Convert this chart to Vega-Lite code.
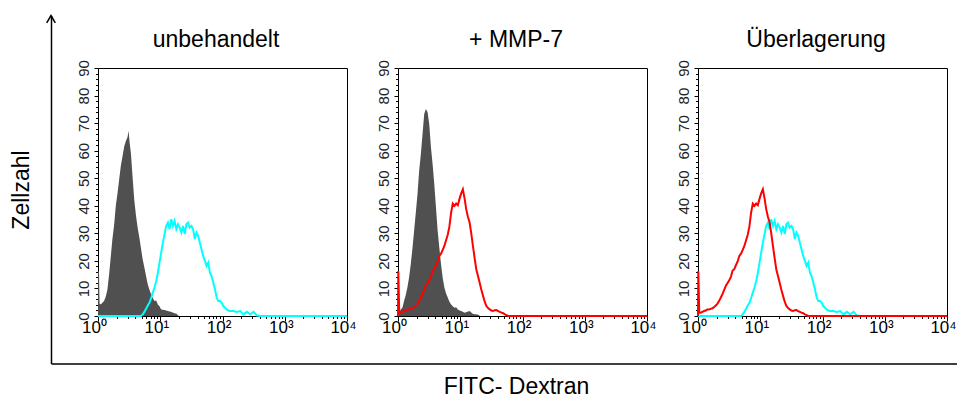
{
  "$schema": "https://vega.github.io/schema/vega-lite/v6.json",
  "padding": {"left": 10, "top": 12, "right": 0, "bottom": 0},
  "config": {
    "font": "Liberation Sans",
    "view": {"stroke": "black", "strokeWidth": 1},
    "axis": {"grid": false, "domain": false, "tickColor": "black", "labelColor": "black", "titleColor": "black", "titleFontWeight": "normal", "labelOverlap": false, "labelFlush": false},
    "title": {"fontSize": 23, "fontWeight": "normal", "color": "black", "frame": "bounds", "anchor": "middle", "offset": 8}
  },
  "datasets": {
    "control1": [
      {"logFITC": 0, "count": 16.3}, {"logFITC": 0.016, "count": 16.0}, {"logFITC": 0.025, "count": 4.5}, {"logFITC": 0.044, "count": 4.2},
      {"logFITC": 0.07, "count": 4.8}, {"logFITC": 0.097, "count": 5.4}, {"logFITC": 0.124, "count": 7.0}, {"logFITC": 0.151, "count": 9.5},
      {"logFITC": 0.178, "count": 15.0}, {"logFITC": 0.205, "count": 21.5}, {"logFITC": 0.232, "count": 28.0}, {"logFITC": 0.259, "count": 33.0},
      {"logFITC": 0.286, "count": 40.0}, {"logFITC": 0.313, "count": 44.5}, {"logFITC": 0.34, "count": 49.5}, {"logFITC": 0.367, "count": 54.5},
      {"logFITC": 0.394, "count": 58.0}, {"logFITC": 0.421, "count": 61.5}, {"logFITC": 0.448, "count": 63.5}, {"logFITC": 0.475, "count": 65.0},
      {"logFITC": 0.491, "count": 67.2}, {"logFITC": 0.51, "count": 62.5}, {"logFITC": 0.529, "count": 59.0}, {"logFITC": 0.556, "count": 50.3},
      {"logFITC": 0.583, "count": 42.0}, {"logFITC": 0.61, "count": 36.5}, {"logFITC": 0.637, "count": 32.0}, {"logFITC": 0.664, "count": 28.5},
      {"logFITC": 0.691, "count": 24.5}, {"logFITC": 0.718, "count": 20.5}, {"logFITC": 0.745, "count": 17.6}, {"logFITC": 0.772, "count": 14.5},
      {"logFITC": 0.799, "count": 11.5}, {"logFITC": 0.826, "count": 9.5}, {"logFITC": 0.853, "count": 7.9}, {"logFITC": 0.88, "count": 6.5},
      {"logFITC": 0.907, "count": 5.4}, {"logFITC": 0.934, "count": 5.6}, {"logFITC": 0.961, "count": 4.2}, {"logFITC": 0.988, "count": 3.5},
      {"logFITC": 1.015, "count": 2.4}, {"logFITC": 1.07, "count": 2.2}, {"logFITC": 1.12, "count": 1.8}, {"logFITC": 1.17, "count": 1.5},
      {"logFITC": 1.23, "count": 1.0}, {"logFITC": 1.26, "count": 0.8}, {"logFITC": 1.3, "count": 0}
    ],
    "control2": [
      {"logFITC": 0, "count": 0}, {"logFITC": 0.016, "count": 1.0}, {"logFITC": 0.043, "count": 2.4}, {"logFITC": 0.07, "count": 3.0},
      {"logFITC": 0.097, "count": 5.4}, {"logFITC": 0.124, "count": 7.5}, {"logFITC": 0.151, "count": 10.3}, {"logFITC": 0.178, "count": 14.0},
      {"logFITC": 0.205, "count": 18.8}, {"logFITC": 0.232, "count": 24.5}, {"logFITC": 0.259, "count": 30.9}, {"logFITC": 0.286, "count": 37.5},
      {"logFITC": 0.313, "count": 44.2}, {"logFITC": 0.34, "count": 52.7}, {"logFITC": 0.367, "count": 58.7}, {"logFITC": 0.394, "count": 66.0},
      {"logFITC": 0.421, "count": 73.3}, {"logFITC": 0.448, "count": 75.1}, {"logFITC": 0.475, "count": 73.9}, {"logFITC": 0.502, "count": 69.6},
      {"logFITC": 0.529, "count": 61.2}, {"logFITC": 0.556, "count": 55.1}, {"logFITC": 0.583, "count": 47.8}, {"logFITC": 0.61, "count": 39.4},
      {"logFITC": 0.637, "count": 30.9}, {"logFITC": 0.664, "count": 24.8}, {"logFITC": 0.691, "count": 18.8}, {"logFITC": 0.718, "count": 13.9},
      {"logFITC": 0.745, "count": 10.3}, {"logFITC": 0.772, "count": 8.2}, {"logFITC": 0.799, "count": 6.7}, {"logFITC": 0.826, "count": 5.2},
      {"logFITC": 0.853, "count": 4.2}, {"logFITC": 0.88, "count": 3.5}, {"logFITC": 0.907, "count": 3.0}, {"logFITC": 0.934, "count": 3.2},
      {"logFITC": 0.961, "count": 2.4}, {"logFITC": 0.988, "count": 2.0}, {"logFITC": 1.015, "count": 1.8}, {"logFITC": 1.07, "count": 1.2},
      {"logFITC": 1.15, "count": 1.8}, {"logFITC": 1.2, "count": 0.8}, {"logFITC": 1.23, "count": 0.6}, {"logFITC": 1.28, "count": 0.5},
      {"logFITC": 1.32, "count": 0}
    ],
    "cyan": [
      {"logFITC": 0, "count": 0}, {"logFITC": 0.69, "count": 0}, {"logFITC": 0.72, "count": 0.6}, {"logFITC": 0.745, "count": 1.5},
      {"logFITC": 0.77, "count": 2.5}, {"logFITC": 0.8, "count": 3.8}, {"logFITC": 0.83, "count": 5.0}, {"logFITC": 0.86, "count": 7.0},
      {"logFITC": 0.88, "count": 8.5}, {"logFITC": 0.91, "count": 10.5}, {"logFITC": 0.934, "count": 12.5}, {"logFITC": 0.961, "count": 15.5},
      {"logFITC": 0.988, "count": 19.4}, {"logFITC": 1.015, "count": 23.0}, {"logFITC": 1.042, "count": 26.6}, {"logFITC": 1.069, "count": 29.7},
      {"logFITC": 1.096, "count": 32.7}, {"logFITC": 1.123, "count": 33.9}, {"logFITC": 1.15, "count": 31.5}, {"logFITC": 1.177, "count": 35.1},
      {"logFITC": 1.204, "count": 32.7}, {"logFITC": 1.231, "count": 34.5}, {"logFITC": 1.258, "count": 31.5}, {"logFITC": 1.285, "count": 33.3},
      {"logFITC": 1.312, "count": 32.1}, {"logFITC": 1.339, "count": 30.3}, {"logFITC": 1.366, "count": 32.7}, {"logFITC": 1.393, "count": 29.7},
      {"logFITC": 1.42, "count": 33.3}, {"logFITC": 1.447, "count": 33.9}, {"logFITC": 1.474, "count": 32.1}, {"logFITC": 1.501, "count": 32.7},
      {"logFITC": 1.528, "count": 31.5}, {"logFITC": 1.555, "count": 27.9}, {"logFITC": 1.582, "count": 30.3}, {"logFITC": 1.609, "count": 29.1},
      {"logFITC": 1.636, "count": 26.6}, {"logFITC": 1.663, "count": 24.2}, {"logFITC": 1.69, "count": 21.8}, {"logFITC": 1.717, "count": 20.0},
      {"logFITC": 1.744, "count": 18.2}, {"logFITC": 1.771, "count": 19.4}, {"logFITC": 1.798, "count": 15.7}, {"logFITC": 1.825, "count": 14.5},
      {"logFITC": 1.852, "count": 12.1}, {"logFITC": 1.879, "count": 9.7}, {"logFITC": 1.906, "count": 6.7}, {"logFITC": 1.933, "count": 5.4},
      {"logFITC": 1.96, "count": 5.4}, {"logFITC": 1.987, "count": 4.8}, {"logFITC": 2.013, "count": 3.6}, {"logFITC": 2.04, "count": 3.0},
      {"logFITC": 2.067, "count": 2.4}, {"logFITC": 2.094, "count": 2.0}, {"logFITC": 2.121, "count": 1.8}, {"logFITC": 2.175, "count": 1.8},
      {"logFITC": 2.229, "count": 1.5}, {"logFITC": 2.283, "count": 1.8}, {"logFITC": 2.337, "count": 0.6}, {"logFITC": 2.391, "count": 1.5},
      {"logFITC": 2.445, "count": 0.6}, {"logFITC": 2.499, "count": 1.5}, {"logFITC": 2.553, "count": 0.2}, {"logFITC": 2.607, "count": 0},
      {"logFITC": 4, "count": 0}
    ],
    "red": [
      {"logFITC": 0, "count": 0}, {"logFITC": 0.005, "count": 16.3}, {"logFITC": 0.02, "count": 1.2}, {"logFITC": 0.043, "count": 1.2},
      {"logFITC": 0.07, "count": 1.5}, {"logFITC": 0.097, "count": 1.8}, {"logFITC": 0.124, "count": 2.0}, {"logFITC": 0.151, "count": 2.4},
      {"logFITC": 0.178, "count": 2.4}, {"logFITC": 0.205, "count": 2.6}, {"logFITC": 0.232, "count": 2.8}, {"logFITC": 0.259, "count": 3.3},
      {"logFITC": 0.286, "count": 3.8}, {"logFITC": 0.313, "count": 4.5}, {"logFITC": 0.34, "count": 5.5}, {"logFITC": 0.367, "count": 6.7},
      {"logFITC": 0.394, "count": 8.0}, {"logFITC": 0.421, "count": 9.5}, {"logFITC": 0.448, "count": 11.0}, {"logFITC": 0.475, "count": 12.0},
      {"logFITC": 0.502, "count": 13.0}, {"logFITC": 0.529, "count": 14.2}, {"logFITC": 0.556, "count": 16.5}, {"logFITC": 0.583, "count": 17.0},
      {"logFITC": 0.61, "count": 18.5}, {"logFITC": 0.637, "count": 19.8}, {"logFITC": 0.664, "count": 21.8}, {"logFITC": 0.691, "count": 22.6},
      {"logFITC": 0.718, "count": 24.0}, {"logFITC": 0.745, "count": 25.4}, {"logFITC": 0.772, "count": 27.5}, {"logFITC": 0.799, "count": 29.5},
      {"logFITC": 0.826, "count": 32.5}, {"logFITC": 0.853, "count": 37.5}, {"logFITC": 0.88, "count": 40.8}, {"logFITC": 0.907, "count": 40.0},
      {"logFITC": 0.934, "count": 40.8}, {"logFITC": 0.961, "count": 40.2}, {"logFITC": 0.988, "count": 42.5}, {"logFITC": 1.015, "count": 44.5},
      {"logFITC": 1.042, "count": 46.0}, {"logFITC": 1.07, "count": 42.6}, {"logFITC": 1.096, "count": 38.7}, {"logFITC": 1.123, "count": 36.0},
      {"logFITC": 1.15, "count": 33.9}, {"logFITC": 1.177, "count": 30.0}, {"logFITC": 1.204, "count": 25.4}, {"logFITC": 1.231, "count": 21.0},
      {"logFITC": 1.258, "count": 16.9}, {"logFITC": 1.285, "count": 14.5}, {"logFITC": 1.312, "count": 12.1}, {"logFITC": 1.339, "count": 9.5},
      {"logFITC": 1.366, "count": 7.3}, {"logFITC": 1.393, "count": 5.2}, {"logFITC": 1.42, "count": 3.6}, {"logFITC": 1.447, "count": 2.9},
      {"logFITC": 1.474, "count": 2.4}, {"logFITC": 1.501, "count": 2.0}, {"logFITC": 1.528, "count": 1.8}, {"logFITC": 1.555, "count": 2.1},
      {"logFITC": 1.582, "count": 2.2}, {"logFITC": 1.609, "count": 1.8}, {"logFITC": 1.636, "count": 1.5}, {"logFITC": 1.663, "count": 1.2},
      {"logFITC": 1.69, "count": 1.0}, {"logFITC": 1.717, "count": 0.6}, {"logFITC": 1.744, "count": 0.3}, {"logFITC": 1.771, "count": 0},
      {"logFITC": 4, "count": 0}
    ]
  },
  "bounds": "flush",
  "spacing": 51,
  "hconcat": [
    {
      "width": 1,
      "height": 248,
      "view": {"stroke": null},
      "data": {"values": [{}]},
      "mark": {"type": "point", "shape": "M-1,1.7L0,0L1,1.7", "filled": false, "stroke": "black", "strokeWidth": 1.5, "size": 74, "opacity": 1, "clip": false},
      "encoding": {
        "x": {"datum": 0, "type": "quantitative", "scale": {"domain": [0, 1], "range": [5, 916], "nice": false, "zero": false},
              "axis": {"orient": "bottom", "offset": 47.5, "domain": true, "domainColor": "black", "domainWidth": 1.5, "ticks": false, "labels": false,
                       "title": "FITC- Dextran", "titleFontSize": 23, "titlePadding": 12, "titleX": 470}},
        "y": {"datum": 1, "type": "quantitative", "scale": {"domain": [0, 1], "range": [295.5, -52.5], "nice": false, "zero": false},
              "axis": {"orient": "left", "offset": -5, "domain": true, "domainColor": "black", "domainWidth": 1.5, "ticks": false, "labels": false,
                       "title": "Zellzahl", "titleFontSize": 23, "titlePadding": 18}}
      }
    },
    {
      "width": 249, "height": 248,
      "title": "unbehandelt",
      "resolve": {"axis": {"x": "independent", "y": "independent"}},
      "layer": [
        {
          "data": {"name": "control1"},
          "mark": {"type": "area", "color": "#505050"},
          "encoding": {
            "x": {"field": "logFITC", "type": "quantitative", "scale": {"domain": [0, 4], "nice": false, "zero": false},
                  "axis": {"title": null, "orient": "bottom", "values": [0, 1, 2, 3, 4],
                           "labelExpr": "['10⁰', '10¹', '10²', '10³', '10⁴'][datum.value]",
                           "tickSize": 5, "labelFontSize": 17, "labelPadding": -2, "labelOffset": -4}},
            "y": {"field": "count", "type": "quantitative", "scale": {"domain": [0, 90], "nice": false},
                  "axis": {"title": null, "orient": "left", "values": [0, 10, 20, 30, 40, 50, 60, 70, 80, 90],
                           "tickSize": 4, "labelAngle": -90, "labelAlign": "center", "labelBaseline": "bottom", "labelFontSize": 15, "labelColor": "#222222", "labelPadding": 3}}
          }
        },
        {
          "data": {"name": "cyan"},
          "mark": {"type": "line", "color": "#00ffff", "strokeWidth": 2},
          "encoding": {
            "x": {"field": "logFITC", "type": "quantitative",
                  "axis": {"title": null, "orient": "bottom", "labels": false, "tickSize": 2.5,
                           "values": [0.30103,0.47712,0.60206,0.69897,0.77815,0.8451,0.90309,0.95424,1.30103,1.47712,1.60206,1.69897,1.77815,1.8451,1.90309,1.95424,2.30103,2.47712,2.60206,2.69897,2.77815,2.8451,2.90309,2.95424,3.30103,3.47712,3.60206,3.69897,3.77815,3.8451,3.90309,3.95424]}},
            "y": {"field": "count", "type": "quantitative",
                  "axis": {"title": null, "orient": "left", "labels": false, "tickSize": 2.5,
                           "values": [2,4,6,8,12,14,16,18,22,24,26,28,32,34,36,38,42,44,46,48,52,54,56,58,62,64,66,68,72,74,76,78,82,84,86,88]}}
          }
        }
      ]
    },
    {
      "width": 249, "height": 248,
      "title": "+ MMP-7",
      "resolve": {"axis": {"x": "independent", "y": "independent"}},
      "layer": [
        {
          "data": {"name": "control2"},
          "mark": {"type": "area", "color": "#505050"},
          "encoding": {
            "x": {"field": "logFITC", "type": "quantitative", "scale": {"domain": [0, 4], "nice": false, "zero": false},
                  "axis": {"title": null, "orient": "bottom", "values": [0, 1, 2, 3, 4],
                           "labelExpr": "['10⁰', '10¹', '10²', '10³', '10⁴'][datum.value]",
                           "tickSize": 5, "labelFontSize": 17, "labelPadding": -2, "labelOffset": -4}},
            "y": {"field": "count", "type": "quantitative", "scale": {"domain": [0, 90], "nice": false},
                  "axis": {"title": null, "orient": "left", "values": [0, 10, 20, 30, 40, 50, 60, 70, 80, 90],
                           "tickSize": 4, "labelAngle": -90, "labelAlign": "center", "labelBaseline": "bottom", "labelFontSize": 15, "labelColor": "#222222", "labelPadding": 3}}
          }
        },
        {
          "data": {"name": "red"},
          "mark": {"type": "line", "color": "#ff0000", "strokeWidth": 2},
          "encoding": {
            "x": {"field": "logFITC", "type": "quantitative",
                  "axis": {"title": null, "orient": "bottom", "labels": false, "tickSize": 2.5,
                           "values": [0.30103,0.47712,0.60206,0.69897,0.77815,0.8451,0.90309,0.95424,1.30103,1.47712,1.60206,1.69897,1.77815,1.8451,1.90309,1.95424,2.30103,2.47712,2.60206,2.69897,2.77815,2.8451,2.90309,2.95424,3.30103,3.47712,3.60206,3.69897,3.77815,3.8451,3.90309,3.95424]}},
            "y": {"field": "count", "type": "quantitative",
                  "axis": {"title": null, "orient": "left", "labels": false, "tickSize": 2.5,
                           "values": [2,4,6,8,12,14,16,18,22,24,26,28,32,34,36,38,42,44,46,48,52,54,56,58,62,64,66,68,72,74,76,78,82,84,86,88]}}
          }
        }
      ]
    },
    {
      "width": 249, "height": 248,
      "title": "Überlagerung",
      "resolve": {"axis": {"x": "independent", "y": "independent"}},
      "layer": [
        {
          "data": {"name": "cyan"},
          "mark": {"type": "line", "color": "#00ffff", "strokeWidth": 2},
          "encoding": {
            "x": {"field": "logFITC", "type": "quantitative", "scale": {"domain": [0, 4], "nice": false, "zero": false},
                  "axis": {"title": null, "orient": "bottom", "values": [0, 1, 2, 3, 4],
                           "labelExpr": "['10⁰', '10¹', '10²', '10³', '10⁴'][datum.value]",
                           "tickSize": 5, "labelFontSize": 17, "labelPadding": -2, "labelOffset": -4}},
            "y": {"field": "count", "type": "quantitative", "scale": {"domain": [0, 90], "nice": false},
                  "axis": {"title": null, "orient": "left", "values": [0, 10, 20, 30, 40, 50, 60, 70, 80, 90],
                           "tickSize": 4, "labelAngle": -90, "labelAlign": "center", "labelBaseline": "bottom", "labelFontSize": 15, "labelColor": "#222222", "labelPadding": 3}}
          }
        },
        {
          "data": {"name": "red"},
          "mark": {"type": "line", "color": "#ff0000", "strokeWidth": 2},
          "encoding": {
            "x": {"field": "logFITC", "type": "quantitative",
                  "axis": {"title": null, "orient": "bottom", "labels": false, "tickSize": 2.5,
                           "values": [0.30103,0.47712,0.60206,0.69897,0.77815,0.8451,0.90309,0.95424,1.30103,1.47712,1.60206,1.69897,1.77815,1.8451,1.90309,1.95424,2.30103,2.47712,2.60206,2.69897,2.77815,2.8451,2.90309,2.95424,3.30103,3.47712,3.60206,3.69897,3.77815,3.8451,3.90309,3.95424]}},
            "y": {"field": "count", "type": "quantitative",
                  "axis": {"title": null, "orient": "left", "labels": false, "tickSize": 2.5,
                           "values": [2,4,6,8,12,14,16,18,22,24,26,28,32,34,36,38,42,44,46,48,52,54,56,58,62,64,66,68,72,74,76,78,82,84,86,88]}}
          }
        }
      ]
    }
  ]
}
